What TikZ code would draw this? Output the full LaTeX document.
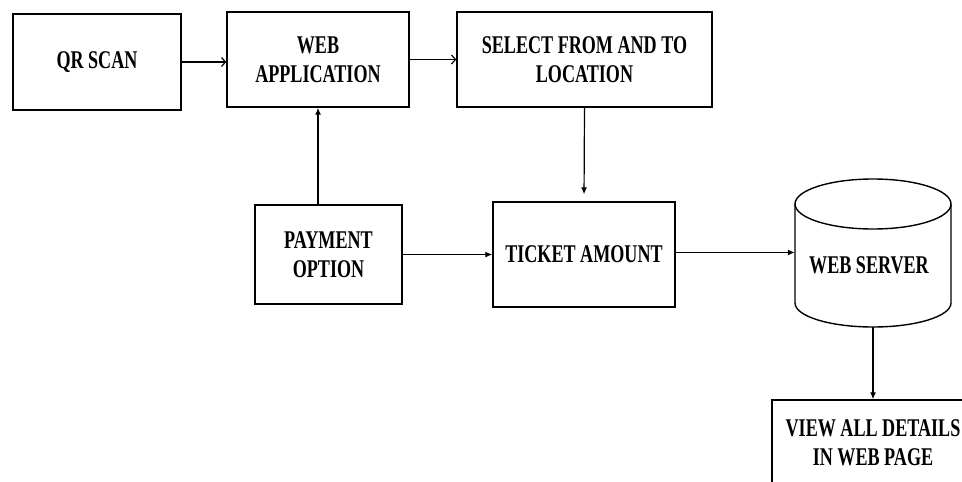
\documentclass[tikz,border=0pt]{standalone}
\usepackage{fontspec}
\setmainfont[FakeStretch=0.71]{Liberation Serif}
\usetikzlibrary{arrows.meta}
\begin{document}
\begin{tikzpicture}[x=1pt,y=-1pt,
  txt/.style={align=center,inner sep=0pt,font=\fontsize{25.5}{29}\selectfont\bfseries},
  box/.style={txt,draw,line width=1.4pt},
  openarr/.style={line width=1.2pt,-{Straight Barb[length=4pt,width=9pt,line width=1.2pt]}},
  fillarr/.style={line width=1.2pt,-{Latex[length=7pt,width=6pt]}}]
\useasboundingbox (0,0) rectangle (962,482);
\clip (0,0) rectangle (962,482);
\node[box,minimum width=168pt,minimum height=96pt] (qr) at (97,62) {QR SCAN};
\node[box,minimum width=182pt,minimum height=95pt] (web) at (318,59.5) {WEB\\APPLICATION};
\node[box,minimum width=255pt,minimum height=95pt] (sel) at (584.5,59.5) {SELECT FROM AND TO\\LOCATION};
\node[box,minimum width=147pt,minimum height=99pt] (pay) at (328.5,254.5) {PAYMENT\\OPTION};
\node[box,minimum width=182pt,minimum height=105pt] (tick) at (584,254.5) {TICKET AMOUNT};
\node[box,minimum width=202pt,minimum height=86pt] (view) at (873,443) {VIEW ALL DETAILS\\IN WEB PAGE};
% cylinder
\draw[line width=1.4pt] (795,204) -- (795,303) arc[start angle=180,end angle=0,x radius=78,y radius=24] -- (951,204);
\draw[line width=1.4pt] (873,204) ellipse[x radius=78,y radius=25];
\node[minimum width=156pt,minimum height=149pt,inner sep=0pt] (srv) at (873,252.5) {};
\node[txt] (srvtxt) at (869,265) {WEB SERVER};
% connectors
\draw[openarr] (qr.east) -- (web.west|-qr.east);
\draw[openarr] (web.east) -- (sel.west);
\draw[fillarr] (pay.north-|web.south) -- (web.south);
\draw[fillarr,shorten >=7pt] (sel.south) -- (tick.north);
\draw[fillarr] (pay.east|-tick.west) -- (tick.west);
\draw[fillarr] (tick.east|-srv.west) -- (srv.west);
\draw[fillarr] (srv.south) -- (view.north);
\end{tikzpicture}
\end{document}
